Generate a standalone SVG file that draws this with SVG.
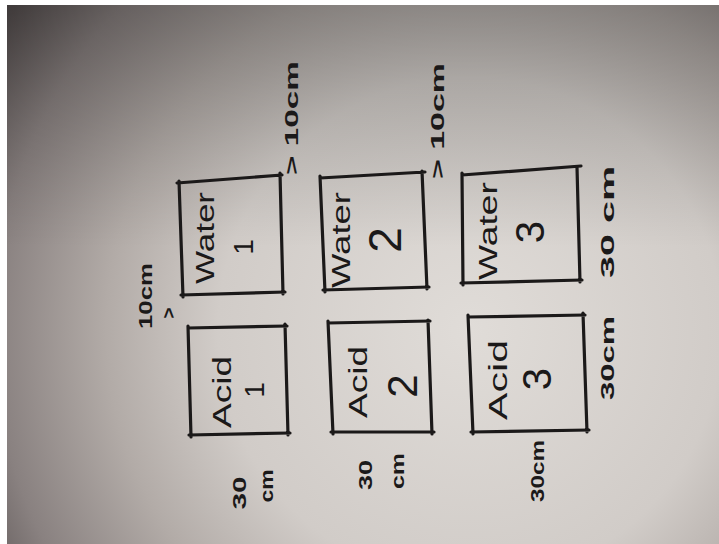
<svg xmlns="http://www.w3.org/2000/svg" width="719" height="544" viewBox="0 0 719 544">
  <defs>
    <radialGradient id="paper" gradientUnits="userSpaceOnUse" cx="470" cy="330" r="560">
      <stop offset="0" stop-color="#e0dcd8"/>
      <stop offset="0.45" stop-color="#d1ccc8"/>
      <stop offset="0.65" stop-color="#b2aba7"/>
      <stop offset="0.85" stop-color="#898180"/>
      <stop offset="1" stop-color="#575050"/>
    </radialGradient>
    <linearGradient id="shade" x1="0" y1="0" x2="0" y2="1">
      <stop offset="0" stop-color="#000" stop-opacity="0.26"/>
      <stop offset="0.45" stop-color="#000" stop-opacity="0"/>
    </linearGradient>
  </defs>
  <style>
    .box { fill: none; stroke: #1b1919; stroke-width: 3.2; stroke-linecap: round; stroke-linejoin: round; }
    .t { font-family: "Liberation Sans", "DejaVu Sans", sans-serif; fill: #1b1919; text-anchor: middle; }
    .lbl { font-size: 26px; }
    .num { font-weight: normal; }
    .dim { font-size: 19px; font-weight: bold; }
  </style>
  <rect x="0" y="0" width="719" height="544" fill="#ffffff"/>
  <rect x="7" y="5" width="712" height="539" fill="url(#paper)"/>
  <rect x="7" y="5" width="712" height="539" fill="url(#shade)"/>

  <g id="water1">
    <path class="box" d="M177,183 L282,175 M179,181 L183,297 M181,295 L285,292 M280,173 L283,294"/>
    <text class="t lbl" transform="translate(205,238) rotate(-90)" y="9" textLength="92" lengthAdjust="spacingAndGlyphs">Water</text>
    <text class="t num" font-size="28" transform="translate(243,247) rotate(-90)" y="10">1</text>
  </g>
  <g id="acid1">
    <path class="box" d="M188,328 L287,326 M188,326 L191,437 M189,435 L290,433 M285,324 L288,435"/>
    <text class="t lbl" transform="translate(222,392) rotate(-90)" y="9" textLength="72" lengthAdjust="spacingAndGlyphs">Acid</text>
    <text class="t num" font-size="28" transform="translate(254,390) rotate(-90)" y="10">1</text>
  </g>
  <g id="water2">
    <path class="box" d="M320,178 L425,172 M320,176 L325,292 M323,290 L429,287 M422,171 L427,289"/>
    <text class="t lbl" font-size="30" transform="translate(340,240) rotate(-90)" y="10" textLength="96" lengthAdjust="spacingAndGlyphs">Water</text>
    <text class="t num" font-size="46" transform="translate(385,240) rotate(-90)" y="16">2</text>
  </g>
  <g id="acid2">
    <path class="box" d="M328,323 L430,321 M328,321 L333,434 M331,432 L434,432 M428,320 L432,434"/>
    <text class="t lbl" transform="translate(358,382) rotate(-90)" y="9" textLength="72" lengthAdjust="spacingAndGlyphs">Acid</text>
    <text class="t num" font-size="42" transform="translate(402,386) rotate(-90)" y="15">2</text>
  </g>
  <g id="water3">
    <path class="box" d="M462,175 L581,166 M462,173 L463,285 M461,283 L582,280 M577,167 L580,282"/>
    <text class="t lbl" font-size="28" transform="translate(487,231) rotate(-90)" y="10" textLength="98" lengthAdjust="spacingAndGlyphs">Water</text>
    <text class="t num" font-size="40" transform="translate(530,232) rotate(-90)" y="14">3</text>
  </g>
  <g id="acid3">
    <path class="box" d="M468,317 L585,315 M468,315 L473,434 M471,432 L589,430 M583,313 L587,432"/>
    <text class="t lbl" font-size="28" transform="translate(497,380) rotate(-90)" y="10" textLength="80" lengthAdjust="spacingAndGlyphs">Acid</text>
    <text class="t num" font-size="40" transform="translate(537,379) rotate(-90)" y="14">3</text>
  </g>

  <g id="dimensions">
    <text class="t dim" transform="translate(291,118) rotate(-90)" y="7" textLength="114" lengthAdjust="spacingAndGlyphs">&gt; 10cm</text>
    <text class="t dim" transform="translate(437,121) rotate(-90)" y="7" textLength="116" lengthAdjust="spacingAndGlyphs">&gt; 10cm</text>
    <text class="t dim" font-size="18" transform="translate(146,296) rotate(-90)" y="6" textLength="66" lengthAdjust="spacingAndGlyphs">10cm</text>
    <text class="t dim" font-size="18" transform="translate(169,313) rotate(-90)" y="6">&gt;</text>
    <text class="t dim" font-size="22" transform="translate(238,493) rotate(-90)" y="8" textLength="33" lengthAdjust="spacingAndGlyphs">30</text>
    <text class="t dim" font-size="18" transform="translate(267,486) rotate(-90)" y="6" textLength="33" lengthAdjust="spacingAndGlyphs">cm</text>
    <text class="t dim" font-size="22" transform="translate(364,475) rotate(-90)" y="8" textLength="30" lengthAdjust="spacingAndGlyphs">30</text>
    <text class="t dim" font-size="18" transform="translate(398,471) rotate(-90)" y="6" textLength="36" lengthAdjust="spacingAndGlyphs">cm</text>
    <text class="t dim" font-size="22" transform="translate(536,471) rotate(-90)" y="8" textLength="62" lengthAdjust="spacingAndGlyphs">30cm</text>
    <text class="t dim" font-size="26" transform="translate(605,358) rotate(-90)" y="9" textLength="84" lengthAdjust="spacingAndGlyphs">30cm</text>
    <text class="t dim" font-size="26" transform="translate(605,222) rotate(-90)" y="9" textLength="112" lengthAdjust="spacingAndGlyphs">30 cm</text>
  </g>
</svg>
